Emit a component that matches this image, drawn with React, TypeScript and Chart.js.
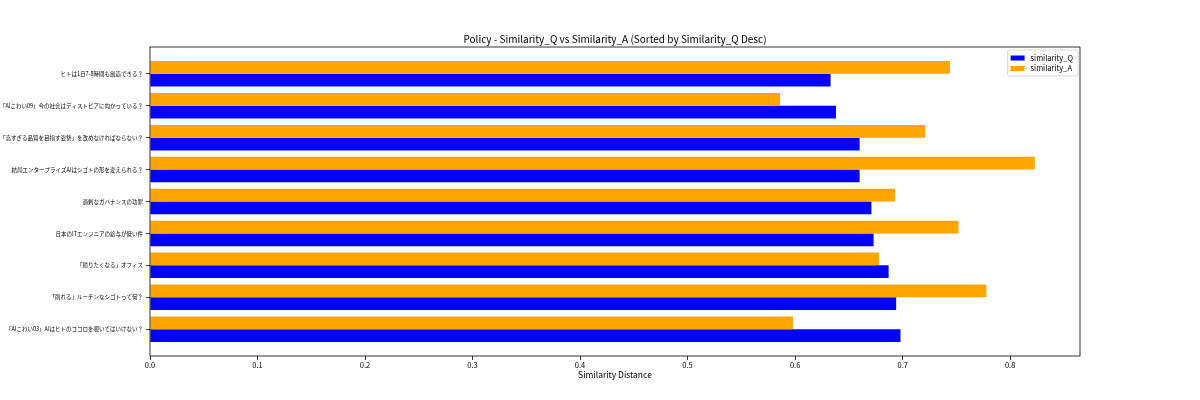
import { useEffect, useRef } from "react";
import { Chart, registerables } from "chart.js";

Chart.register(...registerables);

const TITLE = "Policy - Similarity_Q vs Similarity_A (Sorted by Similarity_Q Desc)";
const X_TITLE = "Similarity Distance";

// top to bottom
const categories = [
  "ヒトは1日7-8時間も創造できる？",
  "「AIこわい09」今の社会はディストピアに向かっている？",
  "「高すぎる品質を目指す姿勢」を改めなければならない？",
  "結局エンタープライズAIはシゴトの形を変えられる？",
  "過剰なガバナンスの功罪",
  "日本のITエンジニアの給与が低い件",
  "「帰りたくなる」オフィス",
  "「削れる」ルーチンなシゴトって何？",
  "「AIこわい03」AIはヒトのココロを覗いてはいけない？",
];
const similarityQ = [0.633, 0.638, 0.660, 0.660, 0.671, 0.673, 0.687, 0.694, 0.698];
const similarityA = [0.744, 0.586, 0.721, 0.823, 0.693, 0.752, 0.678, 0.778, 0.598];
const xTicks = [0.0, 0.1, 0.2, 0.3, 0.4, 0.5, 0.6, 0.7, 0.8];

const FONT = "'Noto Sans CJK JP', 'Noto Sans', sans-serif";
const BLUE = "#0000ff";
const ORANGE = "#ffa500";

const framePlugin = {
  id: "frameTitleLegend",
  afterDraw(chart: any) {
    const { ctx, chartArea: a } = chart;
    ctx.save();
    // frame
    ctx.strokeStyle = "#000";
    ctx.lineWidth = 0.8;
    ctx.strokeRect(a.left, a.top, a.right - a.left, a.bottom - a.top);
    // title
    ctx.fillStyle = "#000";
    ctx.font = `10px ${FONT}`;
    ctx.textAlign = "center";
    ctx.textBaseline = "alphabetic";
    ctx.fillText(TITLE, (a.left + a.right) / 2, a.top - 4);
    // legend
    const items = [chart.data.datasets[1], chart.data.datasets[0]];
    ctx.font = `7.5px ${FONT}`;
    const textW = Math.max(...items.map((d: any) => ctx.measureText(d.label).width));
    const bw = 3 + 14 + 6 + textW + 5;
    const bh = 26;
    const bx = a.right - 2 - bw;
    const by = a.top + 3;
    ctx.beginPath();
    (ctx as any).roundRect(bx, by, bw, bh, 2);
    ctx.fillStyle = "rgba(255,255,255,0.8)";
    ctx.fill();
    ctx.strokeStyle = "#d0d0d0";
    ctx.lineWidth = 0.8;
    ctx.stroke();
    items.forEach((d: any, i: number) => {
      const cy = by + 8 + i * 10.5;
      ctx.fillStyle = d.backgroundColor;
      ctx.fillRect(bx + 3, cy - 2.5, 14, 5);
      ctx.fillStyle = "#000";
      ctx.textAlign = "left";
      ctx.textBaseline = "middle";
      ctx.fillText(d.label, bx + 3 + 14 + 6, cy);
    });
    ctx.restore();
  },
};

export default function App() {
  const ref = useRef<HTMLCanvasElement | null>(null);

  useEffect(() => {
    if (!ref.current) return;
    const chart = new Chart(ref.current, {
      type: "bar",
      data: {
        datasets: [
          {
            label: "similarity_A",
            data: similarityA.map((v, i) => ({ x: v, y: i })),
            backgroundColor: ORANGE,
            borderWidth: 0,
          },
          {
            label: "similarity_Q",
            data: similarityQ.map((v, i) => ({ x: v, y: i })),
            backgroundColor: BLUE,
            borderWidth: 0,
          },
        ],
      },
      options: {
        indexAxis: "y",
        animation: false,
        responsive: true,
        maintainAspectRatio: false,
        devicePixelRatio: 1,
        layout: { padding: { top: 47, right: 120, left: 0, bottom: 20 } },
        datasets: { bar: { barPercentage: 1, categoryPercentage: 0.8 } },
        plugins: {
          legend: { display: false },
          title: { display: false },
          tooltip: { enabled: false },
        },
        scales: {
          x: {
            type: "linear",
            min: 0,
            max: 0.865,
            offset: false,
            border: { display: false },
            grid: {
              offset: false,
              drawOnChartArea: false,
              drawTicks: true,
              tickLength: 4,
              color: "#000",
              lineWidth: 0.8,
            },
            afterBuildTicks: (scale: any) => {
              scale.ticks = xTicks.map((v) => ({ value: v }));
            },
            afterFit: (scale: any) => {
              scale.height = 24;
            },
            ticks: {
              autoSkip: false,
              maxRotation: 0,
              padding: 1,
              color: "#000",
              font: { family: FONT, size: 7.5 },
              callback: (v: any) => Number(v).toFixed(1),
            },
            title: {
              display: true,
              text: X_TITLE,
              color: "#000",
              padding: { top: 1, bottom: 0 },
              font: { family: FONT, size: 8.5 },
            },
          },
          y: {
            type: "linear",
            min: -0.84,
            max: categories.length - 1 + 0.84,
            reverse: true,
            offset: false,
            border: { display: false },
            grid: {
              offset: false,
              drawOnChartArea: false,
              drawTicks: true,
              tickLength: 4,
              color: "#000",
              lineWidth: 0.8,
            },
            afterBuildTicks: (scale: any) => {
              scale.ticks = categories.map((_, i) => ({ value: i }));
            },
            afterFit: (scale: any) => {
              scale.width = 150;
            },
            ticks: {
              autoSkip: false,
              padding: 3,
              color: "#000",
              font: { family: FONT, size: 5.5 },
              callback: (v: any) => categories[Math.round(Number(v))] ?? "",
            },
          },
        },
      },
      plugins: [framePlugin],
    });
    return () => chart.destroy();
  }, []);

  return (
    <div style={{ position: "fixed", left: 0, top: 0, width: 1200, height: 400, background: "#fff" }}>
      <canvas ref={ref} />
    </div>
  );
}
